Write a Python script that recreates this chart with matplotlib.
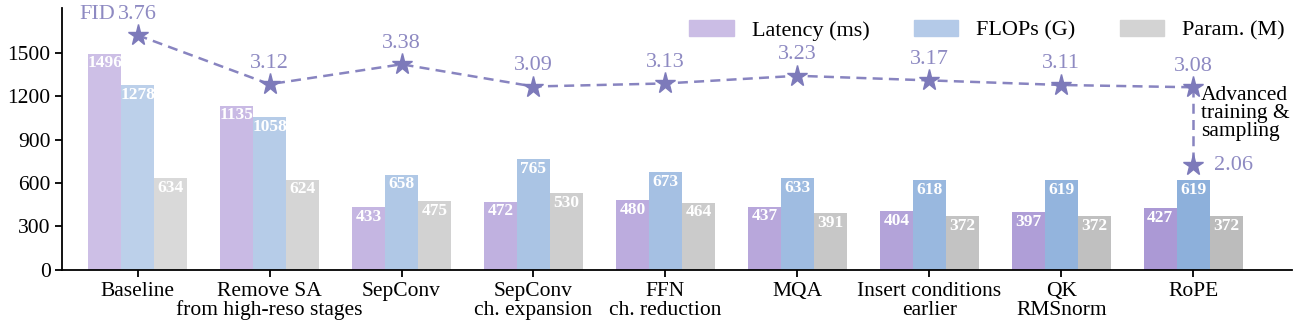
import numpy as np
import matplotlib.pyplot as plt
from matplotlib.colors import to_rgb

plt.rcParams['font.family'] = ['Liberation Serif', 'DejaVu Serif']

categories = ['Baseline', 'Remove SA\nfrom high-reso stages', 'SepConv',
              'SepConv\nch. expansion', 'FFN\nch. reduction', 'MQA',
              'Insert conditions\nearlier', 'QK\nRMSnorm', 'RoPE']
latency = [1496, 1135, 433, 472, 480, 437, 404, 397, 427]
flops = [1278, 1058, 658, 765, 673, 633, 618, 619, 619]
params = [634, 624, 475, 530, 464, 391, 372, 372, 372]
fid = [3.76, 3.12, 3.38, 3.09, 3.13, 3.23, 3.17, 3.11, 3.08]
fid_final = 2.06

# FID drawn on the bar axis through a linear mapping
def fid_to_y(v):
    return 530 * v - 370

def shade(c0, c1, n):
    a, b = np.array(to_rgb(c0)), np.array(to_rgb(c1))
    return [tuple(a + (b - a) * t) for t in np.linspace(0, 1, n)]

n = len(categories)
x = np.arange(n)
w = 0.25
series = [
    (latency, 'Latency (ms)', shade('#cdbfe6', '#ab99d5', n)),
    (flops, 'FLOPs (G)', shade('#bcd0ea', '#8db0db', n)),
    (params, 'Param. (M)', shade('#d9d9d9', '#bcbcbc', n)),
]

fig, ax = plt.subplots(figsize=(13, 3.25), dpi=100)
for k, (vals, lab, cols) in enumerate(series):
    xs = x + (k - 1) * w
    ax.bar(xs, vals, w, color=cols, label=lab, edgecolor='none')
    for xi, v in zip(xs, vals):
        ax.text(xi, v - 12, str(v), ha='center', va='top', color='white',
                fontsize=12.5, fontweight='bold')

star_c = '#7d7aba'
lab_c = '#8e8ac2'
line_kw = dict(linestyle='--', color='#8884c0', lw=1.8, dashes=(4, 2.5), zorder=3)
fy = [fid_to_y(v) for v in fid]
ax.plot(x, fy, **line_kw)
ax.plot([x[-1], x[-1]], [fy[-1], fid_to_y(fid_final)], **line_kw)
ax.plot(x, fy, linestyle='none', marker='*', ms=15.5, color=star_c, zorder=4)
ax.plot([x[-1]], [fid_to_y(fid_final)], linestyle='none', marker='*', ms=15.5,
        color=star_c, zorder=4)
for xi, yi, v in zip(x, fy, fid):
    ax.text(xi, yi + 80, f'{v:.2f}', ha='center', va='bottom', color=lab_c,
            fontsize=16)
ax.text(x[0] - 0.17, fy[0] + 80, 'FID', ha='right', va='bottom', color=lab_c,
        fontsize=16)
ax.text(x[-1] + 0.16, fid_to_y(fid_final), f'{fid_final:.2f}', ha='left',
        va='center', color=lab_c, fontsize=16)
ax.text(x[-1] + 0.06, fy[-1] + 10, 'Advanced\ntraining &\nsampling', ha='left',
        va='top', fontsize=15.5, linespacing=0.92)

ax.set_xlim(-0.57, 8.75)
ax.set_ylim(0, 1810)
ax.set_yticks([0, 300, 600, 900, 1200, 1500])
ax.set_xticks(x)
ax.set_xticklabels(categories, fontsize=15.5, linespacing=1.0)
ax.tick_params(axis='y', labelsize=15.5)
ax.tick_params(width=1.3, length=5)
ax.spines['top'].set_visible(False)
ax.spines['right'].set_visible(False)
ax.spines['left'].set_linewidth(1.3)
ax.spines['bottom'].set_linewidth(1.3)

handles, labels = ax.get_legend_handles_labels()
leg = ax.legend(handles, labels, loc='upper right', ncol=3, frameon=False,
                fontsize=16, handlelength=2.0, handleheight=0.7,
                handletextpad=0.8, columnspacing=2.0,
                bbox_to_anchor=(1.01, 1.03))
for h, c in zip(leg.legend_handles, ['#cbbde5', '#b4cae8', '#d3d3d3']):
    h.set_color(c)

plt.subplots_adjust(left=0.048, right=0.994, top=0.975, bottom=0.17)
plt.savefig('out.png')
